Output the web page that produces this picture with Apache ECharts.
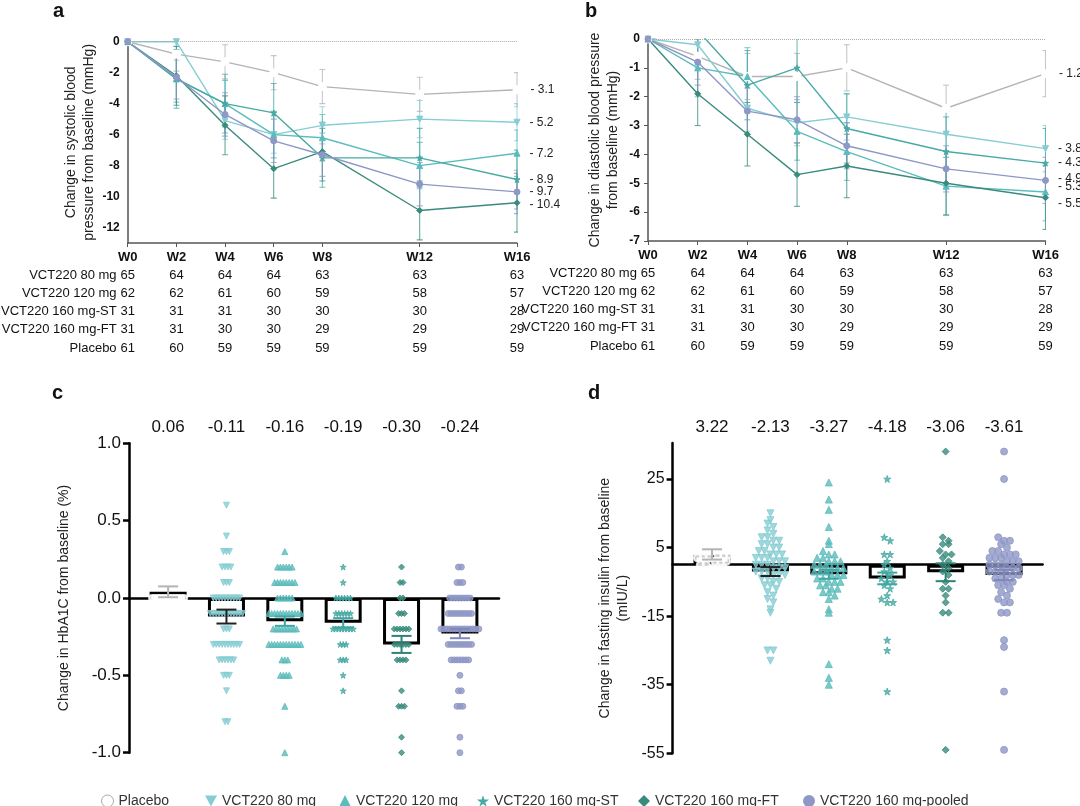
<!DOCTYPE html>
<html><head><meta charset="utf-8">
<script src="https://cdn.jsdelivr.net/npm/echarts@6/dist/echarts.min.js"></script>
<style>html,body{margin:0;padding:0;background:#fff}#c{width:1080px;height:806px}</style>
</head><body><div id="c"></div>
<script>
// ---------- data ----------
const groupNames = ['Placebo','VCT220 80 mg','VCT220 120 mg','VCT220 160 mg-ST','VCT220 160 mg-FT','VCT220 160 mg-pooled'];
const weeks = [0,2,4,6,8,12,16];
const weekLabels = ['W0','W2','W4','W6','W8','W12','W16'];
const sbpTicks = [0,-2,-4,-6,-8,-10,-12];
// panel a: systolic BP change
const sbpPlacebo = [0,-0.8,-1.3,-2.0,-2.9,-3.4,-3.1];
const sbp80 = [0,0,-5.1,-6.0,-5.4,-5.0,-5.2];
const sbp120 = [0,-2.4,-4.0,-6.0,-6.2,-8.0,-7.2];
const sbpST = [0,-2.4,-4.0,-4.6,-7.5,-7.5,-8.9];
const sbpFT = [0,-2.2,-5.4,-8.2,-7.1,-10.9,-10.4];
const sbpPooled = [0,-2.3,-4.7,-6.4,-7.3,-9.2,-9.7];
const sbpErr = [1.1,1.2,1.5,1.9,1.9,1.4];
// panel b: diastolic BP change
const dbpPlacebo = [0,-0.6,-1.3,-1.3,-1.0,-2.4,-1.2];
const dbp80 = [0,-0.2,-2.4,-2.9,-2.7,-3.3,-3.8];
const dbp120 = [0,-1.0,-1.3,-3.2,-3.9,-5.1,-5.3];
const dbpST = [0,0.3,-1.6,-1.0,-3.1,-3.9,-4.3];
const dbpFT = [0,-1.9,-3.3,-4.7,-4.4,-5.0,-5.5];
const dbpPooled = [0,-0.8,-2.5,-2.8,-3.7,-4.5,-4.9];
const dbpErr = [0.8,0.8,1.0,1.2,1.1,0.8];
// patient counts table
const tableRows = ['VCT220 80 mg','VCT220 120 mg','VCT220 160 mg-ST','VCT220 160 mg-FT','Placebo'];
const n80 = [65,64,64,64,63,63,63];
const n120 = [62,62,61,60,59,58,57];
const nST = [31,31,31,30,30,30,28];
const nFT = [31,31,30,30,29,29,29];
const nPlacebo = [61,60,59,59,59,59,59];
// panel c: HbA1c change, individual values
const hbPlacebo = [0.5,0.5,0.4,0.4,0.3,0.3,0.3,0.3,0.3,0.3,0.2,0.2,0.2,0.2,0.2,0.2,0.2,0.2,0.2,0.2,0.2,0.2,0.1,0.1,0.1,0.1,0.1,0.1,0.1,0.1,0,0,0,0,0,0,0,0,0,0,0,0,-0.1,-0.1,-0.1,-0.1,-0.1,-0.1,-0.1,-0.1,-0.1,-0.1,-0.1,-0.1,-0.2,-0.2,-0.2,-0.3,-0.3,-0.5,-1.0];
const hb80 = [0.6,0.4,0.3,0.3,0.3,0.2,0.2,0.2,0.2,0.1,0.1,0.1,0,0,0,0,0,0,0,0,0,0,-0.1,-0.1,-0.1,-0.1,-0.1,-0.1,-0.1,-0.1,-0.1,-0.1,-0.1,-0.1,-0.2,-0.2,-0.2,-0.3,-0.3,-0.3,-0.3,-0.3,-0.3,-0.3,-0.3,-0.3,-0.3,-0.4,-0.4,-0.4,-0.4,-0.4,-0.4,-0.5,-0.5,-0.5,-0.6,-0.8,-0.8];
const hb120 = [0.3,0.2,0.2,0.2,0.2,0.2,0.2,0.1,0.1,0.1,0.1,0.1,0.1,0.1,0.1,0,0,0,0,0,0,-0.1,-0.1,-0.1,-0.1,-0.1,-0.1,-0.1,-0.1,-0.1,-0.1,-0.1,-0.1,-0.2,-0.2,-0.2,-0.2,-0.2,-0.2,-0.2,-0.2,-0.2,-0.3,-0.3,-0.3,-0.3,-0.3,-0.3,-0.3,-0.3,-0.3,-0.3,-0.3,-0.3,-0.4,-0.4,-0.4,-0.5,-0.5,-0.5,-0.5,-0.7,-1.0];
const hbST = [0.2,0.1,0,0,0,0,0,0,-0.1,-0.1,-0.1,-0.1,-0.1,-0.1,-0.2,-0.2,-0.2,-0.2,-0.2,-0.2,-0.2,-0.2,-0.3,-0.3,-0.3,-0.4,-0.4,-0.4,-0.5,-0.6];
const hbFT = [0.2,0.1,0.1,0,0,-0.1,-0.1,-0.1,-0.2,-0.2,-0.2,-0.2,-0.2,-0.2,-0.3,-0.3,-0.3,-0.3,-0.3,-0.3,-0.4,-0.4,-0.4,-0.4,-0.6,-0.7,-0.7,-0.7,-0.9,-1.0];
const hbPooled = [0.2,0.2,0.1,0.1,0.1,0,0,0,0,0,0,0,0,-0.1,-0.1,-0.1,-0.1,-0.1,-0.1,-0.1,-0.1,-0.1,-0.2,-0.2,-0.2,-0.2,-0.2,-0.2,-0.2,-0.2,-0.2,-0.2,-0.2,-0.2,-0.2,-0.2,-0.3,-0.3,-0.3,-0.3,-0.3,-0.3,-0.3,-0.3,-0.3,-0.4,-0.4,-0.4,-0.4,-0.4,-0.4,-0.4,-0.5,-0.6,-0.6,-0.7,-0.7,-0.7,-0.9,-1.0];
const hbMeans = [0.04,-0.12,-0.15,-0.16,-0.30,-0.23];
const hbSE = [0.035,0.045,0.03,0.03,0.055,0.03];
const hbLabels = ['0.06','-0.11','-0.16','-0.19','-0.30','-0.24'];
// panel d: fasting insulin change
const insPlacebo = [24,23.5,22,21,19,17,16,13,12.5,13,11,9,9,8,7,6,6,5,5,5,4,4,4,4,3,3,3,2,2,2,1,1,1,0,0,-1,-1,-1,-2,-2,-3,-3,-4,-5,-5,-6,-6,-7,-8,-9,-11,-18,-21];
const ins80 = [15,13,12,11,10,9,8,8,7,7,6,6,5,5,4,4,3,3,3,2,2,2,1,1,1,0,0,0,-1,-1,-1,-2,-2,-2,-3,-3,-3,-4,-4,-5,-5,-6,-6,-7,-8,-9,-10,-11,-13,-14,-25,-25,-28];
const ins120 = [24,19,16,11,7,6,4,3,3,2,2,1,1,1,0,0,0,-1,-1,-1,-2,-2,-2,-3,-3,-3,-4,-4,-5,-5,-5,-6,-6,-7,-7,-8,-8,-9,-10,-13,-14,-29,-33,-35];
const insST = [25,8,7,3,3,1,0,-1,-2,-3,-4,-5,-5,-6,-7,-9,-10,-11,-11,-22,-25,-37];
const insFT = [33,8,7,6,6,4,3,3,2,1,0,-1,-2,-3,-5,-7,-7,-9,-11,-14,-14,-54];
const insPooled = [33,25,8,7,7,6,5,4,4,3,3,3,2,2,2,1,1,1,0,0,0,-1,-1,-1,-2,-2,-2,-3,-3,-3,-4,-4,-5,-5,-6,-6,-7,-8,-9,-10,-11,-11,-14,-14,-22,-24,-37,-54];
const insMeans = [3.0,-2.0,-2.8,-4.0,-2.2,-3.0];
const insSE = [1.5,1.3,1.3,1.7,2.6,1.5];
const insLabels = ['3.22','-2.13','-3.27','-4.18','-3.06','-3.61'];

// ---------- styles ----------
const colors = ['#b4b4b4','#86cdd3','#5bbcbc','#47aaa4','#3a8b7d','#8e97c6'];
const errColorsC = ['#b4b4b4','#222','#3fa7a3','#3fa7a3','#2f8275','#7f88b8'];
const starPath = 'path://M5,0 L6.2,3.6 L10,3.6 L6.9,5.9 L8.1,9.5 L5,7.3 L1.9,9.5 L3.1,5.9 L0,3.6 L3.8,3.6 Z';
const symbols = ['emptyCircle','path://M0,0 L10,0 L5,9 Z','triangle',starPath,'diamond','circle'];
const legendIcons = ['circle','path://M0,0 L10,0 L5,9 Z','triangle',starPath,'diamond','circle'];
const sbpSets = [sbpPlacebo,sbp80,sbp120,sbpST,sbpFT,sbpPooled];
const dbpSets = [dbpPlacebo,dbp80,dbp120,dbpST,dbpFT,dbpPooled];
const countSets = [n80,n120,nST,nFT,nPlacebo];
const hbSets = [hbPlacebo,hb80,hb120,hbST,hbFT,hbPooled];
const insSets = [insPlacebo,ins80,ins120,insST,insFT,insPooled];

const grids = [
  {left:119.5, width:397.5, top:41.7, height:201.3},
  {left:648, width:397.5, top:39, height:202},
  {left:129, width:370, top:443.3, height:309.4},
  {left:672.6, width:370, top:443, height:310.3}
];

function swarm(vals, center, step, bin) {
  const groups = {};
  vals.forEach(v => { const k = Math.round(v / bin); (groups[k] = groups[k] || []).push(v); });
  const out = [];
  Object.keys(groups).forEach(k => {
    const g = groups[k], n = g.length;
    g.forEach((v, j) => out.push([center + (j - (n - 1) / 2) * step, v]));
  });
  return out;
}
function errItem(color, capPx) {
  return function (params, api) {
    const x = api.value(0), y = api.value(1), e = api.value(2);
    const p1 = api.coord([x, y + e]), p2 = api.coord([x, y - e]);
    const st = {stroke: color, lineWidth: 1.1, opacity: 0.75};
    return {type:'group', children:[
      {type:'line', shape:{x1:p1[0],y1:p1[1],x2:p2[0],y2:p2[1]}, style:st},
      {type:'line', shape:{x1:p1[0]-capPx,y1:p1[1],x2:p1[0]+capPx,y2:p1[1]}, style:st},
      {type:'line', shape:{x1:p2[0]-capPx,y1:p2[1],x2:p2[0]+capPx,y2:p2[1]}, style:st}
    ]};
  };
}

const xAxes = [];
const yAxes = [];
[0,1].forEach(gi => {
  xAxes.push({type:'value', gridIndex:gi, min:0, max:16,
    axisLine:{onZero:false, lineStyle:{color:'#555', width:1.5}}, splitLine:{show:false},
    axisTick:{customValues:weeks, length:4, lineStyle:{color:'#555'}},
    axisLabel:{customValues:weeks, formatter:v => weekLabels[weeks.indexOf(v)], fontWeight:'bold', fontSize:13, color:'#111', margin:8, fontFamily:'Liberation Sans'}});
});
xAxes.push({type:'value', gridIndex:2, min:-0.67, max:5.67, axisLine:{onZero:true, lineStyle:{color:'#000', width:2.5}}, axisTick:{show:false}, axisLabel:{show:false}, splitLine:{show:false}});
xAxes.push({type:'value', gridIndex:3, min:-0.675, max:5.66, axisLine:{onZero:true, lineStyle:{color:'#000', width:2.5}}, axisTick:{show:false}, axisLabel:{show:false}, splitLine:{show:false}});
[[2,hbLabels,-0.67,5.67],[3,insLabels,-0.675,5.66]].forEach(([gi, labs, mn, mx]) => {
  xAxes.push({type:'value', gridIndex:gi, position:'top', min:mn, max:mx, axisLine:{show:false, onZero:false}, axisTick:{show:false}, splitLine:{show:false},
    axisLabel:{customValues:[0,1,2,3,4,5], formatter:v => labs[Math.round(v)], fontSize:17, color:'#111', margin:7, fontFamily:'Liberation Sans'}});
});
[0,1].forEach(gi => {
  tableRows.forEach((row, k) => {
    const counts = countSets[k];
    xAxes.push({type:'value', gridIndex:gi, position:'bottom', offset:25.5 + 18.3 * k, min:0, max:16,
      name:row, nameLocation:'start', nameGap:5,
      nameTextStyle:{verticalAlign:'top', fontSize:13, color:'#111', fontFamily:'Liberation Sans'},
      axisLine:{show:false, onZero:false}, axisTick:{show:false}, splitLine:{show:false},
      axisLabel:{customValues:weeks, formatter:v => String(counts[weeks.indexOf(v)]), fontSize:13, color:'#111', margin:0, verticalAlign:'top', fontFamily:'Liberation Sans'}});
  });
});

yAxes.push({type:'value', gridIndex:0, min:-13, max:0,
  name:'Change in systolic blood\npressure from baseline (mmHg)', nameLocation:'middle', nameGap:30,
  nameTextStyle:{fontSize:14, color:'#222', lineHeight:18, fontFamily:'Liberation Sans'},
  axisLine:{show:true, onZero:false, lineStyle:{color:'#555', width:1.5}}, axisTick:{show:false}, splitLine:{show:false},
  axisLabel:{customValues:sbpTicks, fontWeight:'bold', fontSize:12, color:'#111', fontFamily:'Liberation Sans'}});
yAxes.push({type:'value', gridIndex:1, min:-7, max:0, interval:1,
  name:'Change in diastolic blood pressure\nfrom baseline (mmHg)', nameLocation:'middle', nameGap:26,
  nameTextStyle:{fontSize:14, color:'#222', lineHeight:18, fontFamily:'Liberation Sans'},
  axisLine:{show:true, onZero:false, lineStyle:{color:'#555', width:1.5}}, axisTick:{show:true, length:4, lineStyle:{color:'#555'}}, splitLine:{show:false},
  axisLabel:{fontWeight:'bold', fontSize:12, color:'#111', fontFamily:'Liberation Sans'}});
yAxes.push({type:'value', gridIndex:2, min:-1, max:1, interval:0.5,
  name:'Change in HbA1C from baseline (%)', nameLocation:'middle', nameGap:58,
  nameTextStyle:{fontSize:14, color:'#222', fontFamily:'Liberation Sans'},
  axisLine:{show:true, onZero:false, lineStyle:{color:'#000', width:2.5}}, axisTick:{show:true, length:6, lineStyle:{color:'#000', width:2.5}}, splitLine:{show:false},
  axisLabel:{fontSize:17, color:'#111', formatter:v => v.toFixed(1), fontFamily:'Liberation Sans'}});
yAxes.push({type:'value', gridIndex:3, min:-55, max:35.5, interval:20,
  name:'Change in fasting insulin from baseline\n(mIU/L)', nameLocation:'middle', nameGap:40,
  nameTextStyle:{fontSize:14, color:'#222', lineHeight:18, fontFamily:'Liberation Sans'},
  axisLine:{show:true, onZero:false, lineStyle:{color:'#000', width:2.5}}, axisTick:{show:true, length:6, lineStyle:{color:'#000', width:2.5}}, splitLine:{show:false},
  axisLabel:{fontSize:16, color:'#111', showMaxLabel:false, fontFamily:'Liberation Sans'}});

const series = [];
const endOffsetsA = [0,0,0,0,2,0];
const endOffsetsB = [0,0,-5,0,6,-2];
[[sbpSets,sbpErr,0,endOffsetsA],[dbpSets,dbpErr,1,endOffsetsB]].forEach(([sets, errs, gi, offs]) => {
  sets.forEach((vals, g) => {
    series.push({type:'custom', xAxisIndex:gi, yAxisIndex:gi, clip:true, z:1, silent:true,
      renderItem: errItem(colors[g], 3), data: vals.slice(1).map((v, j) => [weeks[j + 1], v, errs[g]])});
    const data = vals.map((v, j) => {
      const item = {value:[weeks[j], v]};
      if (j === vals.length - 1) item.label = {show:true, position:'right', distance:9, offset:[0, offs[g]], formatter:v.toFixed(1).replace('-', '- '), fontSize:12, color:'#222', fontFamily:'Liberation Sans'};
      return item;
    });
    const s = {type:'line', name:groupNames[g], xAxisIndex:gi, yAxisIndex:gi, clip:true, z:3,
      symbol:symbols[g], symbolSize:g === 0 ? 7 : 6, lineStyle:{color:colors[g], width:1.4},
      itemStyle:{color:g === 0 ? '#fff' : colors[g], borderColor:colors[g]}, data};
    if (g === 0) s.markLine = {silent:true, symbol:'none', label:{show:false}, lineStyle:{type:'dotted', color:'#aaa', width:1}, data:[{yAxis:0}]};
    series.push(s);
  });
});
[[hbSets,hbMeans,hbSE,2,0.05,0.1,errColorsC],[insSets,insMeans,insSE,3,0.1,2,errColorsC]].forEach(([sets, means, ses, gi, step, bin, ecols]) => {
  series.push({type:'bar', xAxisIndex:gi, yAxisIndex:gi, barWidth:37, z:1, silent:true,
    itemStyle:{color:'#fff', borderColor:'#000', borderWidth:3}, data:means.map((m, i) => [i, m])});
  sets.forEach((vals, g) => {
    series.push({type:'scatter', name:groupNames[g], xAxisIndex:gi, yAxisIndex:gi, z:3,
      symbol:symbols[g], symbolSize:gi === 2 ? 6 : 7,
      itemStyle:{color:g === 0 ? '#fff' : colors[g], borderColor:colors[g], borderWidth:1},
      data:swarm(vals, g, step, bin)});
  });
  series.push({type:'custom', xAxisIndex:gi, yAxisIndex:gi, z:4, silent:true,
    renderItem:function (params, api) {
      const x = api.value(0), y = api.value(1), e = api.value(2), c = ecols[api.value(3)];
      const p1 = api.coord([x, y + e]), p2 = api.coord([x, y - e]);
      const st = {stroke:c, lineWidth:2};
      return {type:'group', children:[
        {type:'line', shape:{x1:p1[0],y1:p1[1],x2:p2[0],y2:p2[1]}, style:st},
        {type:'line', shape:{x1:p1[0]-10,y1:p1[1],x2:p1[0]+10,y2:p1[1]}, style:st},
        {type:'line', shape:{x1:p2[0]-10,y1:p2[1],x2:p2[0]+10,y2:p2[1]}, style:st}]};
    },
    data:means.map((m, i) => [i, m, ses[i], i])});
});

const legendLefts = [96, 200, 334, 472, 633, 798];
const legends = groupNames.map((n, g) => ({
  left:legendLefts[g], top:789, itemWidth:12, itemHeight:12, itemGap:6,
  textStyle:{fontSize:14, color:'#333', fontFamily:'Liberation Sans'}, selectedMode:false,
  data:[{name:n, icon:legendIcons[g], itemStyle:g === 0 ? {color:'#fff', borderColor:'#aaa', borderWidth:1} : {color:colors[g]}}]
}));

const letter = (t, x, y) => ({type:'text', left:x, top:y, style:{text:t, fontSize:20, fontWeight:'bold', fill:'#111', fontFamily:'Liberation Sans'}});

const chart = echarts.init(document.getElementById('c'));
chart.setOption({
  animation:false, backgroundColor:'#fff',
  grid:grids, xAxis:xAxes, yAxis:yAxes, series, legend:legends,
  graphic:[letter('a', 53, 1), letter('b', 585, 1), letter('c', 52, 383), letter('d', 588, 383)]
});
</script></body></html>
